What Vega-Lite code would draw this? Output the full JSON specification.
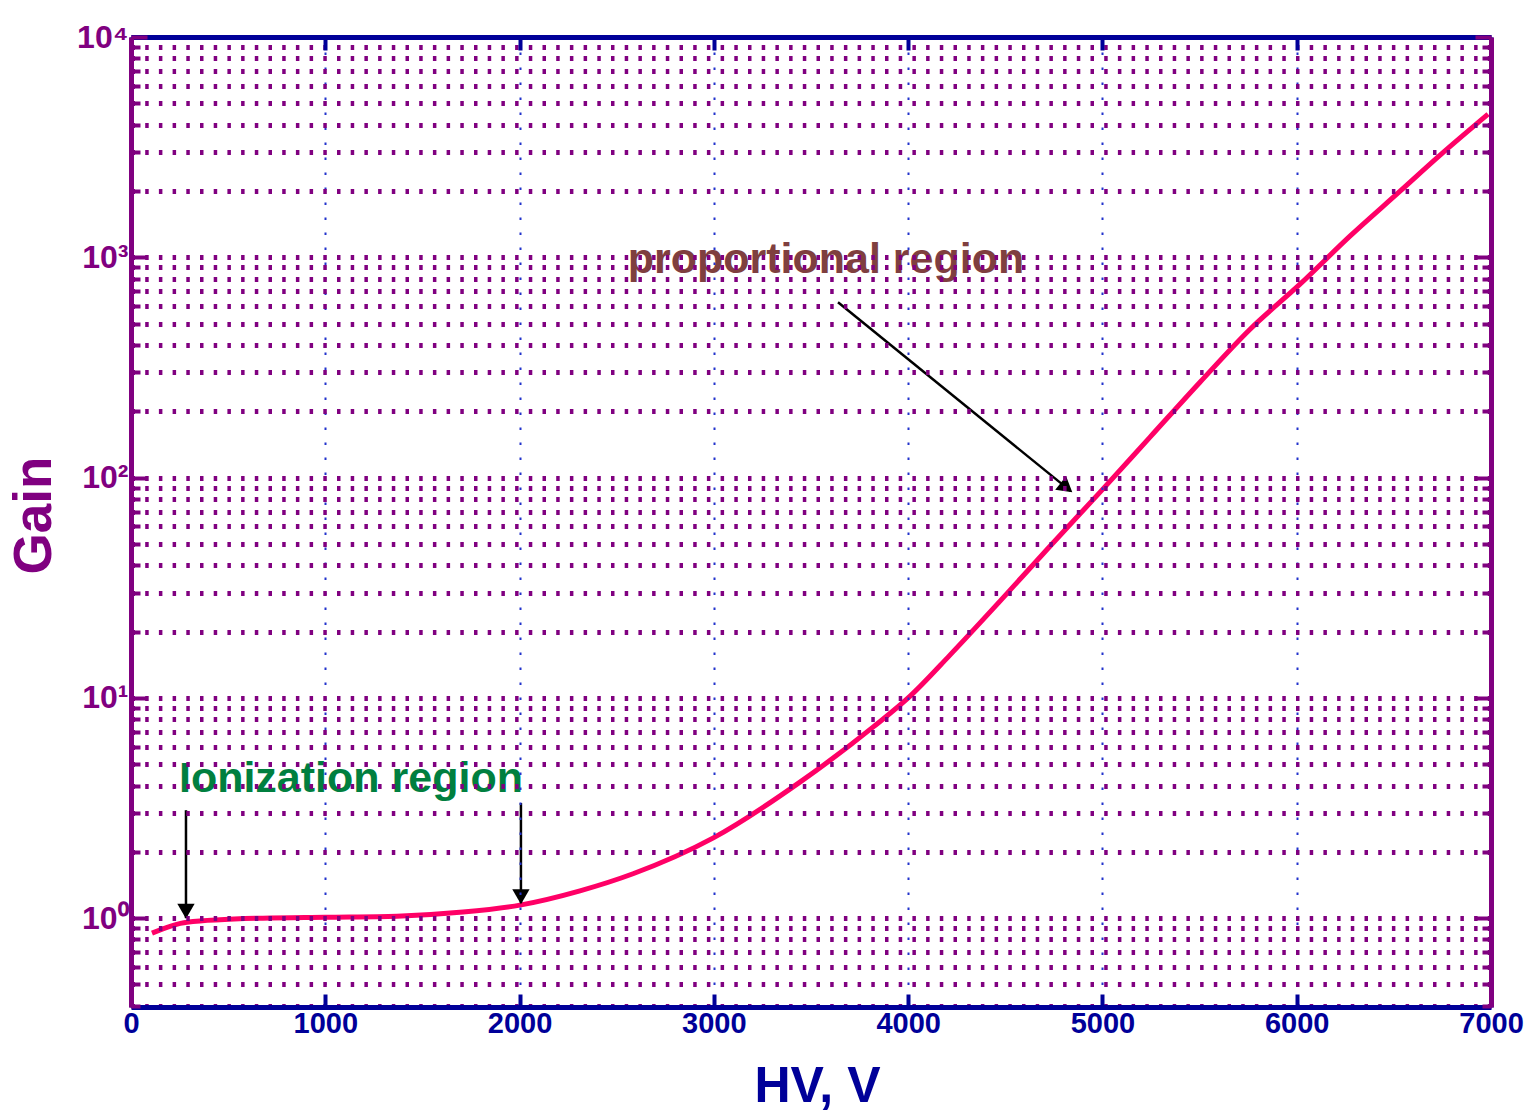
{
  "$schema": "https://vega.github.io/schema/vega-lite/v6.json",
  "width": 1360,
  "height": 970,
  "autosize": {"type": "none"},
  "padding": {"left": 131, "top": 37, "right": 37, "bottom": 106},
  "background": "white",
  "config": {"view": {"stroke": null}},
  "resolve": {"axis": {"x": "independent", "y": "independent"}},
  "layer": [
    {
      "data": {"values": [
        {"hv": 108, "gain": 0.855},
        {"hv": 288, "gain": 0.959},
        {"hv": 679, "gain": 1.0},
        {"hv": 998, "gain": 1.01},
        {"hv": 1369, "gain": 1.021},
        {"hv": 1709, "gain": 1.065},
        {"hv": 2002, "gain": 1.146},
        {"hv": 2311, "gain": 1.33},
        {"hv": 2584, "gain": 1.59},
        {"hv": 2995, "gain": 2.307},
        {"hv": 3443, "gain": 4.144},
        {"hv": 3819, "gain": 7.362},
        {"hv": 4010, "gain": 10.18},
        {"hv": 4215, "gain": 15.63},
        {"hv": 4473, "gain": 27.48},
        {"hv": 4730, "gain": 48.8},
        {"hv": 4988, "gain": 85.9},
        {"hv": 5245, "gain": 152.6},
        {"hv": 5502, "gain": 271},
        {"hv": 5760, "gain": 471.7},
        {"hv": 6017, "gain": 755},
        {"hv": 6274, "gain": 1247},
        {"hv": 6532, "gain": 1995},
        {"hv": 6738, "gain": 2907},
        {"hv": 6985, "gain": 4463}
      ]},
      "mark": {"type": "line", "color": "#ff0066", "strokeWidth": 5, "interpolate": "monotone", "clip": true},
      "encoding": {
        "x": {
          "field": "hv", "type": "quantitative",
          "scale": {"domain": [0, 7000], "nice": false, "zero": false},
          "axis": {
            "orient": "bottom",
            "values": [0, 1000, 2000, 3000, 4000, 5000, 6000, 7000],
            "format": "d",
            "title": "HV, V",
            "titleFont": "Liberation Sans",
            "titleFontSize": 50,
            "titleFontWeight": "bold",
            "titleColor": "#000099",
            "titleX": 686,
            "titleY": 94,
            "titleBaseline": "alphabetic",
            "titleAnchor": "middle",
            "titleAlign": "center",
            "labelFont": "Liberation Sans",
            "labelFontSize": 29,
            "labelFontWeight": "bold",
            "labelColor": "#000099",
            "labelPadding": 15,
            "labelFlush": false,
            "labelOverlap": false,
            "domain": true,
            "domainColor": "#000099",
            "domainWidth": 5,
            "ticks": true,
            "tickColor": "#000099",
            "tickWidth": 4,
            "tickSize": -13,
            "grid": true,
            "gridColor": "#2233cc",
            "gridWidth": 2,
            "gridDash": [2.5, 12.5],
            "zindex": 1
          }
        },
        "y": {
          "field": "gain", "type": "quantitative",
          "scale": {"type": "log", "domain": [0.395, 10000], "nice": false},
          "axis": {
            "orient": "left",
            "values": [0.4, 0.5, 0.6, 0.7, 0.8, 0.9, 1, 2, 3, 4, 5, 6, 7, 8, 9, 10, 20, 30, 40, 50, 60, 70, 80, 90, 100, 200, 300, 400, 500, 600, 700, 800, 900, 1000, 2000, 3000, 4000, 5000, 6000, 7000, 8000, 9000, 10000],
            "labelExpr": "datum.value === 1 ? '10⁰' : datum.value === 10 ? '10¹' : datum.value === 100 ? '10²' : datum.value === 1000 ? '10³' : datum.value === 10000 ? '10⁴' : ''",
            "labelFont": "Liberation Sans",
            "labelFontSize": 32,
            "labelFontWeight": "bold",
            "labelColor": "#800080",
            "labelPadding": 19,
            "labelFlush": false,
            "labelOverlap": false,
            "labelBaseline": "middle",
            "title": "Gain",
            "titleFont": "Liberation Sans",
            "titleFontSize": 53,
            "titleFontWeight": "bold",
            "titleColor": "#800080",
            "titleAngle": -90,
            "titleX": -97,
            "titleY": 478,
            "titleBaseline": "middle",
            "titleAlign": "center",
            "domain": true,
            "domainColor": "#800080",
            "domainWidth": 5,
            "ticks": true,
            "tickColor": "#800080",
            "tickWidth": 4,
            "tickSize": {"condition": {"test": "indexof([1, 10, 100, 1000, 10000], datum.value) >= 0", "value": -16}, "value": -9},
            "grid": true,
            "gridColor": "#800080",
            "gridWidth": 5,
            "gridDash": [3.5, 10.2],
            "zindex": 1
          }
        }
      }
    },
    {
      "data": {"values": [
        {"x1": 283, "y1": 3.09, "x2": 283, "y2": 1.0},
        {"x1": 2007, "y1": 3.33, "x2": 2007, "y2": 1.17},
        {"x1": 3639, "y1": 625, "x2": 4835, "y2": 87}
      ]},
      "mark": {"type": "rule", "color": "black", "strokeWidth": 2.5},
      "encoding": {
        "x": {
          "field": "x1", "type": "quantitative",
          "scale": {"domain": [0, 7000], "nice": false, "zero": false},
          "axis": {
            "orient": "top",
            "values": [0, 1000, 2000, 3000, 4000, 5000, 6000, 7000],
            "labels": false,
            "title": null,
            "grid": false,
            "domain": true,
            "domainColor": "#000099",
            "domainWidth": 5,
            "tickColor": "#000099",
            "tickWidth": 4,
            "tickSize": -13,
            "zindex": 1
          }
        },
        "y": {
          "field": "y1", "type": "quantitative",
          "scale": {"type": "log", "domain": [0.395, 10000], "nice": false},
          "axis": {
            "orient": "right",
            "values": [0.4, 0.5, 0.6, 0.7, 0.8, 0.9, 1, 2, 3, 4, 5, 6, 7, 8, 9, 10, 20, 30, 40, 50, 60, 70, 80, 90, 100, 200, 300, 400, 500, 600, 700, 800, 900, 1000, 2000, 3000, 4000, 5000, 6000, 7000, 8000, 9000, 10000],
            "labels": false,
            "title": null,
            "grid": false,
            "domain": true,
            "domainColor": "#800080",
            "domainWidth": 5,
            "tickColor": "#800080",
            "tickWidth": 4,
            "tickSize": {"condition": {"test": "indexof([1, 10, 100, 1000, 10000], datum.value) >= 0", "value": -16}, "value": -9},
            "zindex": 1
          }
        },
        "x2": {"field": "x2"},
        "y2": {"field": "y2"}
      }
    },
    {
      "data": {"values": [
        {"hv": 283, "gain": 1.075},
        {"hv": 2007, "gain": 1.25}
      ]},
      "mark": {"type": "point", "shape": "triangle-down", "filled": true, "color": "black", "opacity": 1, "size": 300},
      "encoding": {
        "x": {"field": "hv", "type": "quantitative", "scale": {"domain": [0, 7000], "nice": false, "zero": false}, "axis": null},
        "y": {"field": "gain", "type": "quantitative", "scale": {"type": "log", "domain": [0.395, 10000], "nice": false}, "axis": null}
      }
    },
    {
      "data": {"values": [
        {"hv": 4815, "gain": 90}
      ]},
      "mark": {"type": "point", "shape": "triangle-right", "filled": true, "color": "black", "opacity": 1, "size": 300, "angle": 39},
      "encoding": {
        "x": {"field": "hv", "type": "quantitative", "scale": {"domain": [0, 7000], "nice": false, "zero": false}, "axis": null},
        "y": {"field": "gain", "type": "quantitative", "scale": {"type": "log", "domain": [0.395, 10000], "nice": false}, "axis": null}
      }
    },
    {
      "data": {"values": [
        {"hv": 1132, "gain": 3.73, "label": "Ionization region"}
      ]},
      "mark": {"type": "text", "font": "Liberation Sans", "fontSize": 43, "fontWeight": "bold", "color": "#007f3f", "align": "center", "baseline": "alphabetic"},
      "encoding": {
        "x": {"field": "hv", "type": "quantitative", "scale": {"domain": [0, 7000], "nice": false, "zero": false}, "axis": null},
        "y": {"field": "gain", "type": "quantitative", "scale": {"type": "log", "domain": [0.395, 10000], "nice": false}, "axis": null},
        "text": {"field": "label"}
      }
    },
    {
      "data": {"values": [
        {"hv": 3577, "gain": 847, "label": "proportional region"}
      ]},
      "mark": {"type": "text", "font": "Liberation Sans", "fontSize": 43, "fontWeight": "bold", "color": "#7f3f3f", "align": "center", "baseline": "alphabetic"},
      "encoding": {
        "x": {"field": "hv", "type": "quantitative", "scale": {"domain": [0, 7000], "nice": false, "zero": false}, "axis": null},
        "y": {"field": "gain", "type": "quantitative", "scale": {"type": "log", "domain": [0.395, 10000], "nice": false}, "axis": null},
        "text": {"field": "label"}
      }
    }
  ]
}
